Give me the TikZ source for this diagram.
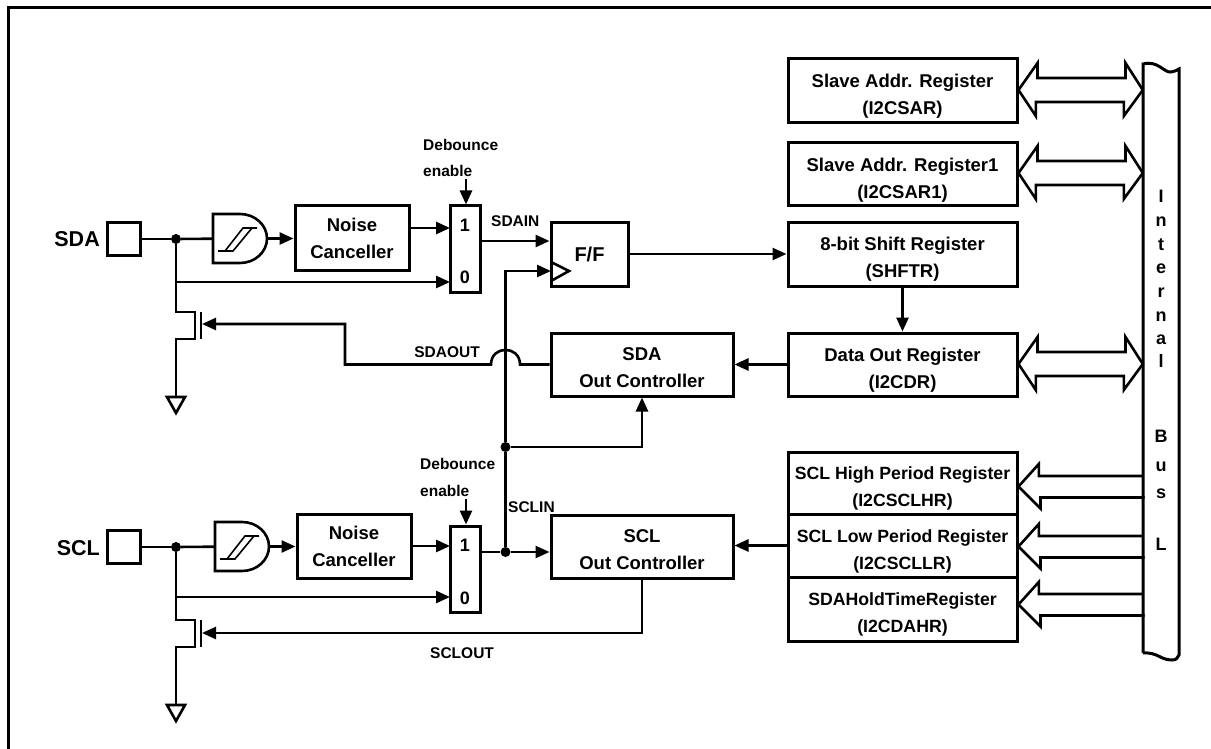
\documentclass[tikz,border=0pt]{standalone}
\usepackage{fontspec}
\setmainfont{Liberation Sans}
\usetikzlibrary{arrows.meta}
\tikzset{
	wire/.style={line width=2.6pt},
	sig/.style={wire, -{Triangle[length=14pt,width=12pt]}},
	block/.style={draw, line width=3pt, inner sep=0pt, align=center, font=\fontsize{18.5}{27}\selectfont\bfseries},
	tag/.style={inner sep=0pt, font=\fontsize{15.5}{18}\selectfont\bfseries},
	pinname/.style={inner sep=0pt, anchor=base east, font=\fontsize{21.5}{24}\selectfont\bfseries},
	muxdigit/.style={inner sep=0pt, anchor=base, font=\fontsize{18}{20}\selectfont\bfseries},
	dot/.style={circle, fill=black, inner sep=0pt, minimum size=10pt},
}
\begin{document}
\begin{tikzpicture}[x=1pt, y=-1pt]
	\useasboundingbox (0,0) rectangle (1211,749);
	\draw[line width=3pt] (8,749) -- (8,8) -- (1211,8);

	% pad, input gate, noise filter and open drain, same for both pins
	\foreach \n/\l/\y/\g in {sda/SDA/0/0, scl/SCL/308/2} {
			\node[draw, line width=2.6pt, minimum size=33pt, inner sep=0pt] (pad\n) at (124,239+\y) {};
			\node[pinname] (name\n) at (100,247+\y) {\l};
			\node[dot] (dot\n) at (176,239+\y) {};
			\node[minimum width=54pt, minimum height=49pt, inner sep=0pt] (gate\n) at (240+\g,238.5+\y) {};
			\draw[wire] (213+\g,214+\y) -- (240+\g,214+\y) .. controls (255+\g,214+\y) and (267+\g,225+\y) .. (267+\g,238.5+\y)
				.. controls (267+\g,252+\y) and (255+\g,263+\y) .. (240+\g,263+\y) -- (213+\g,263+\y) -- cycle;
			\draw[line width=1.6pt] (218+\g,251+\y) -- (233+\g,251+\y) -- (252+\g,228+\y) -- (257+\g,228+\y) -- (243+\g,228+\y) -- (225+\g,251+\y);
			\node[block, minimum width=114pt, minimum height=64pt] (noise\n) at (352+\g,238+\y) {Noise\\Canceller};
			\draw[wire] (pad\n) -- (dot\n);
			\draw[wire] (dot\n) -- (gate\n);
			\draw[sig] (gate\n) -- (gate\n -| noise\n.west);
			\coordinate (drain\n) at (195,312+\y);
			\coordinate (source\n) at (195,339+\y);
			\coordinate (mosgate\n) at (202,324+\y);
			\coordinate (gnd\n) at (176,397+\y);
			\draw[wire] (dot\n) -- (176,312+\y) -- (drain\n) -- (source\n) -- (176,339+\y) -- (gnd\n);
			\draw[wire] (201,312+\y) -- (201,339+\y);
			\draw[wire, line join=miter] (gnd\n) ++(-9,0) -- ++(18,0) -- ++(-9,16) -- cycle;
		}

	% selectors
	\node[block, minimum width=30pt, minimum height=86pt] (muxsda) at (465,249) {};
	\node[block, minimum width=30pt, minimum height=86pt] (muxscl) at (465,569) {};
	\foreach \n/\a/\z in {sda/232/283, scl/551/604} {
			\node[muxdigit] (one\n) at (465,\a) {1};
			\node[muxdigit] (zero\n) at (465,\z) {0};
		}
	\coordinate (debsda) at (466,179);
	\coordinate (debscl) at (466,499);
	\node[tag, anchor=base west] (debsdaa) at (423,151) {Debounce};
	\node[tag, anchor=base west] (debsdab) at (423,177) {enable};
	\node[tag, anchor=base west] (debscla) at (420,469) {Debounce};
	\node[tag, anchor=base west] (debsclb) at (420,496) {enable};
	\draw[sig] (debsda) -- (muxsda.north -| debsda);
	\draw[sig] (debscl) -- (muxscl.north -| debscl);
	\coordinate (inonesda) at (450,228);
	\coordinate (inzerosda) at (450,282);
	\coordinate (inonescl) at (450,546);
	\coordinate (inzeroscl) at (450,597);
	\draw[sig] (noisesda.east |- inonesda) -- (inonesda);
	\draw[sig] (noisescl.east |- inonescl) -- (inonescl);
	\draw[sig] (dotsda |- inzerosda) -- (inzerosda);
	\draw[sig] (dotscl |- inzeroscl) -- (inzeroscl);

	% middle column
	\node[block, minimum width=77pt, minimum height=64pt, font=\fontsize{20}{24}\selectfont\bfseries] (ff) at (589.5,254) {F/F};
	\draw[wire, line join=miter] (551,262) -- (569,271) -- (551,281);
	\node[block, minimum width=182pt, minimum height=63pt] (ctrlsda) at (642,364.5) {\rule{0pt}{18.4pt}SDA\\Out Controller};
	\node[block, minimum width=182pt, minimum height=63pt] (ctrlscl) at (642,546.5) {\rule{0pt}{18.4pt}SCL\\Out Controller};
	\node[dot] (sclup) at (505.5,447) {};
	\node[dot] (sclin) at (505.5,552) {};
	\coordinate (clock) at (551,271);
	\coordinate (hopright) at (520,364.5);
	\coordinate (hopleft) at (491,364.5);
	\coordinate (turnsda) at (345,364.5);
	\coordinate (turnscl) at (642,633);
	\draw[sig] (muxsda.east |- 0,241) -- (ff.west |- 0,241);
	\draw[sig] (sclin) -- (sclup) -- (sclup |- clock) -- (clock);
	\draw[sig] (sclup) -- (sclup -| ctrlsda.south) -- (ctrlsda.south);
	\draw[wire] (muxscl.east |- sclin) -- (sclin);
	\draw[sig] (sclin) -- (sclin -| ctrlscl.west);
	\draw[sig] (ctrlsda.west) -- (hopright) .. controls (520,345) and (491,345) .. (hopleft) -- (turnsda) -- (turnsda |- mosgatesda) -- (mosgatesda);
	\draw[sig] (ctrlscl.south) -- (turnscl) -- (turnscl -| mosgatescl);
	\node[tag, anchor=base west] (sdain) at (491,226) {SDAIN};
	\node[tag, anchor=base east] (sdaout) at (480,357) {SDAOUT};
	\node[tag, anchor=base west] (sclinname) at (508,512) {SCLIN};
	\node[tag, anchor=base west] (scloutname) at (430,658) {SCLOUT};

	% registers
	\foreach \n/\y/\h/\f/\t/\b in {slave/91/64/18.5/Slave Addr. Register/(I2CSAR), slaveone/174.5/63/18.5/Slave Addr. Register1/(I2CSAR1), shift/254/64/18.5/8-bit Shift Register/(SHFTR), dataout/364.5/63/18.5/Data Out Register/(I2CDR), sclhigh/483/62/17.7/SCL High Period Register/(I2CSCLHR), scllow/545.5/63/17.7/SCL Low Period Register/(I2CSCLLR), hold/609/64/17.7/SDAHoldTimeRegister/(I2CDAHR)} {
			\node[block, minimum width=229pt, minimum height=\h pt, font=\fontsize{\f}{27}\selectfont\bfseries] (\n) at (902.5,\y) {\rule{0pt}{24pt}\t\\\b};
		}
	\draw[sig] (ff.east) -- (ff.east -| shift.west);
	\draw[sig] (shift.south) -- (dataout.north);
	\draw[sig] (dataout.west) -- (ctrlsda.east);
	\draw[sig] (scllow.west) -- (scllow.west -| ctrlscl.east);

	% internal bus
	\node[minimum width=36pt, minimum height=590pt, inner sep=0pt] (bus) at (1161,358) {};
	\draw[line width=3pt] (1143,653) -- (1143,64) .. controls (1158,60) and (1164,73) .. (1171,72) .. controls (1174,72) and (1177,70) .. (1179,69)
		-- (1179,655) .. controls (1178,658) and (1176,660) .. (1172,660) .. controls (1160,660) and (1158,652) .. (1143,653);
	\foreach \l/\y in {I/203, n/226, t/250, e/273, r/297, n/321, a/344, l/367, B/442, u/471, s/498, L/550} {
			\node[muxdigit] (bus\y) at (1161,\y) {\l};
		}
	\foreach \n/\y in {slave/90, slaveone/173, dataout/364} {
			\draw[wire, line join=miter] (\n.east |- 0,\y) -- ++(19,-27) -- ++(0,15) -- ++(88,0) -- ++(0,-15) -- (bus.west |- 0,\y)
				-- ++(-19,26) -- ++(0,-14) -- ++(-88,0) -- ++(0,14) -- cycle;
		}
	\foreach \n/\y in {sclhigh/486.5, scllow/546.5, hold/604.5} {
			\draw[wire, line join=miter] (bus.west |- 0,\y) ++(0,-10.5) -- ++(-104,0) -- ++(0,-12) -- (\n.east |- 0,\y) -- ++(22,22) -- ++(0,-11) -- ++(104,0);
		}
\end{tikzpicture}
\end{document}
